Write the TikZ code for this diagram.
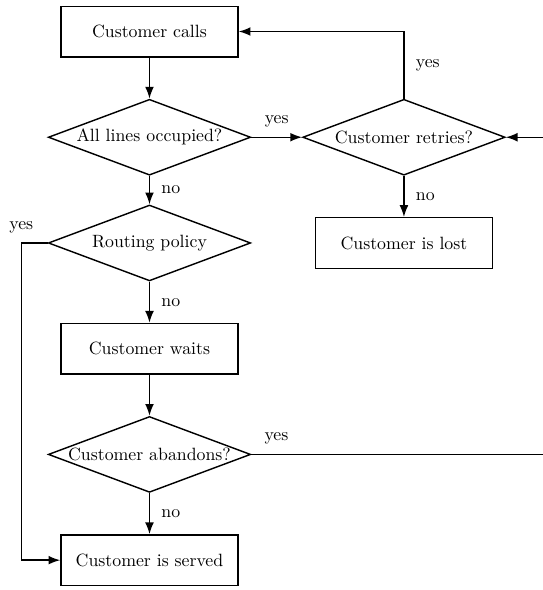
\documentclass[tikz,border=0pt]{standalone}
\usetikzlibrary{shapes.geometric,arrows.meta,positioning}

\begin{document}
\begin{tikzpicture}[node distance=2.09cm,
		block/.style={draw,thick,minimum width=3.5cm,minimum height=1cm},
		decision/.style={draw,thick,diamond,aspect=2.6,inner sep=0pt,minimum width=4cm,minimum height=1.5cm},
		flow/.style={thick,-{Latex}}]
	\useasboundingbox (-2.955,0.623) rectangle (7.777,-11.04);
	\node[block] (calls) {Customer calls};
	\node[decision,below of=calls] (occupied) {All lines occupied?};
	\node[decision,node distance=5.03cm,right of=occupied] (retries) {Customer retries?};
	\node[decision,below of=occupied] (routing) {Routing policy};
	\node[block,below of=retries] (lost) {Customer is lost};
	\node[block,below of=routing] (waits) {Customer waits};
	\node[decision,below of=waits] (abandons) {Customer abandons?};
	\node[block,below of=abandons] (served) {Customer is served};
	\coordinate[right=1.2cm of retries.east] (back);
	\path[flow] (calls) edge (occupied)
	(occupied) edge node[right=3pt] {no} (routing)
	(occupied) edge node[above=2pt] {yes} (retries)
	(retries) edge node[right=3pt] {no} (lost)
	(routing) edge node[right=3pt] {no} (waits)
	(waits) edge (abandons)
	(abandons) edge node[right=3pt] {no} (served);
	\draw[flow] (retries.north) |- node[pos=0.25,right=3pt] {yes} (calls.east);
	\draw[flow] (routing.west) -- ++(-0.52,0) node[above=2pt] {yes} |- (served.west);
	\draw[flow] (abandons.east) -- node[above=2pt] {yes} ++(0.99,0) -| (back) -- (retries.east);
\end{tikzpicture}
\end{document}
